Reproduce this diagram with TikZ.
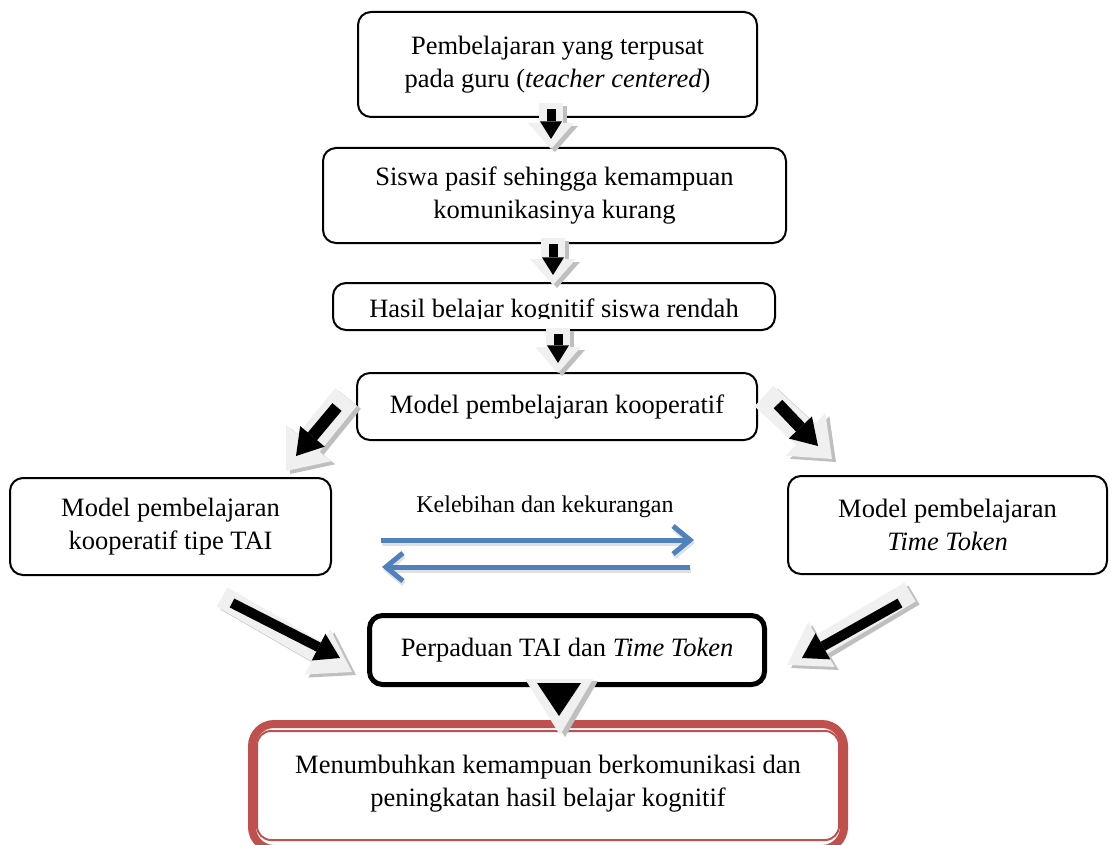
\documentclass[tikz,border=0pt]{standalone}
\usepackage{fontspec}
\setmainfont{Liberation Serif}
\usetikzlibrary{arrows.meta}
\definecolor{redb}{RGB}{192,80,77}
\definecolor{blueb}{RGB}{79,129,189}
\newcommand\barrow[9]{%
  \draw[black!25, line width=#5pt, -{Triangle[width=#6pt,length=#7pt,line width=0pt]}]
    ([xshift=4pt,yshift=-3pt]#1) -- ([xshift=4pt,yshift=-3pt]#2);
  \draw[black!6, line width=#5pt, -{Triangle[width=#6pt,length=#7pt,line width=0pt]}] (#1) -- (#2);
  \pgfmathsetmacro\bhl{0.8*#9}%
  \draw[black, line width=#8pt, -{Triangle[width=#9pt,length=\bhl pt,line width=0pt]}] (#3) -- (#4);
}
\begin{document}
\begin{tikzpicture}[x=1pt,y=-1pt,
  box/.style={draw, line width=2pt, rounded corners=13pt, align=center, inner sep=0pt,
    font=\fontsize{26.5}{33}\selectfont},
  plain/.style={inner sep=0pt, align=center, font=\fontsize{26.5}{33}\selectfont},
  blue arrow/.style={blueb, line width=5pt, -{Straight Barb[length=17pt,width=28pt]}},
  blue shadow/.style={black!12, line width=5pt, -{Straight Barb[length=17pt,width=28pt]}}
]
\useasboundingbox (0,0) rectangle (1118,845);

% boxes
\node[box, minimum width=399pt, minimum height=105pt] (b1) at (557.5,64.5)
  {Pembelajaran yang terpusat\\pada guru (\textit{teacher centered})};
\node[box, minimum width=463pt, minimum height=95pt] (b2) at (554.5,195.5)
  {Siswa pasif sehingga kemampuan\\komunikasinya kurang};
\node[box, minimum width=442pt, minimum height=47pt] (b3) at (554,306.5) {};
\begin{scope}
  \clip (335,285) rectangle (773,318.5);
  \node[plain, anchor=base] (t3) at (554,317) {Hasil belajar kognitif siswa rendah};
\end{scope}
\node[box, minimum width=400pt, minimum height=67pt] (b4) at (557,406.5)
  {Model pembelajaran kooperatif};
\node[box, minimum width=321pt, minimum height=97pt] (b5) at (170.5,526.5)
  {Model pembelajaran\\kooperatif tipe TAI};
\node[box, minimum width=319pt, minimum height=98pt] (b6) at (947.5,525)
  {Model pembelajaran\\\textit{Time Token}};
\node[box, line width=5pt, minimum width=395pt, minimum height=69pt] (b7) at (567,650)
  {Perpaduan TAI dan \textit{Time Token}};

% final double red box
\draw[redb, line width=8pt, rounded corners=22pt] (252,724) rectangle (844,849);
\draw[redb, line width=2pt, rounded corners=14pt] (257,731) rectangle (839,840);
\node[plain] (b8) at (548,784)
  {Menumbuhkan kemampuan berkomunikasi dan\\peningkatan hasil belajar kognitif};

% blue arrows
\node[inner sep=0pt, font=\fontsize{24}{28}\selectfont] (kk) at (545,507) {Kelebihan dan kekurangan};
\coordinate (r1) at (381,540);
\coordinate (r2) at (694,540);
\coordinate (l1) at (690,567);
\coordinate (l2) at (382,567);
\draw[blue shadow] ([xshift=1pt,yshift=-3pt]r1) -- ([xshift=1pt,yshift=-3pt]r2);
\draw[blue shadow] ([xshift=1pt,yshift=-3pt]l1) -- ([xshift=1pt,yshift=-3pt]l2);
\draw[blue arrow] (r1) -- (r2);
\draw[blue arrow] (l1) -- (l2);

% block arrows (coordinates)
\coordinate (a1o) at (551,103); \coordinate (a1t) at (551,149);
\coordinate (a1s) at (551,109); \coordinate (a1e) at (551,139);
\coordinate (a2o) at (553,238); \coordinate (a2t) at (553,285);
\coordinate (a2s) at (553,244); \coordinate (a2e) at (553,275);
\coordinate (a3o) at (558,328); \coordinate (a3t) at (558,373);
\coordinate (a3s) at (558,334); \coordinate (a3e) at (558,363);
\coordinate (d1o) at (346,397); \coordinate (d1t) at (286,471);
\coordinate (d1s) at (337,407); \coordinate (d1e) at (296,456);
\coordinate (d2o) at (764,396); \coordinate (d2t) at (832,459);
\coordinate (d2s) at (778,404); \coordinate (d2e) at (818,446);
\coordinate (d3o) at (222,597); \coordinate (d3t) at (352,672);
\coordinate (d3s) at (232,603); \coordinate (d3e) at (340,658);
\coordinate (d4o) at (910,592); \coordinate (d4t) at (787,665);
\coordinate (d4s) at (900,603); \coordinate (d4e) at (802,658);

\barrow{a1o}{a1t}{a1s}{a1e}{24}{46}{26}{9}{22}
\barrow{a2o}{a2t}{a2s}{a2e}{24}{46}{26}{9}{22}
\barrow{a3o}{a3t}{a3s}{a3e}{24}{46}{26}{9}{22}
\barrow{d1o}{d1t}{d1s}{d1e}{28}{58}{36}{12}{32}
\barrow{d2o}{d2t}{d2s}{d2e}{28}{58}{36}{12}{32}
\barrow{d3o}{d3t}{d3s}{d3e}{22}{52}{40}{10}{30}
\barrow{d4o}{d4t}{d4s}{d4e}{22}{52}{40}{10}{30}

% big triangle arrow
\fill[black!25] (530,681) -- (598,681) -- (565,737) -- cycle;
\fill[black!6] (525,679) -- (593,679) -- (560,735) -- cycle;
\fill[black] (537,683) -- (581,683) -- (559,716) -- cycle;
\end{tikzpicture}
\end{document}
